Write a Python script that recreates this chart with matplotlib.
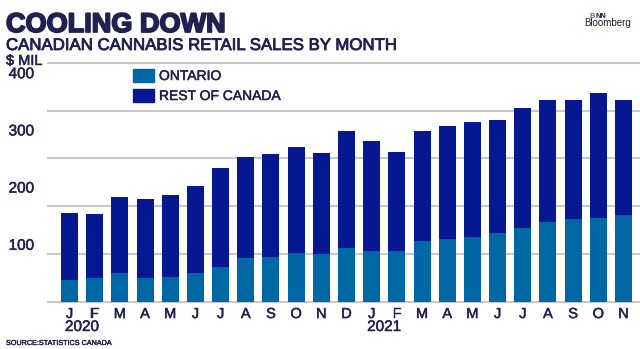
import numpy as np
import matplotlib
matplotlib.use("Agg")
import matplotlib.pyplot as plt
import matplotlib.patheffects as pe
from matplotlib.patches import Rectangle
from matplotlib.transforms import blended_transform_factory

# Monthly retail sales, $ millions
months = ["J", "F", "M", "A", "M", "J", "J", "A", "S", "O", "N", "D",
          "J", "F", "M", "A", "M", "J", "J", "A", "S", "O", "N"]
years = ["2020", "2021"]
year_start_idx = [0, 12]
total_sales = [154, 153, 182, 179, 186, 202, 233, 252, 257, 270, 259, 298,
               280, 261, 298, 306, 313, 318, 339, 353, 353, 364, 353]
ontario = [38, 41, 50, 41, 43, 50, 60, 76, 78, 85, 83, 93,
           88, 88, 106, 109, 113, 120, 128, 139, 144, 146, 151]
rest_of_canada = [t - o for t, o in zip(total_sales, ontario)]
ytick_values = [100, 200, 300, 400]

C_ONT = "#0067a5"
C_REST = "#061891"
C_TEXT = "#20214f"
C_GRID = "#c9c9c9"
FONT = "Liberation Sans"
MEDIUM = [pe.withStroke(linewidth=0.35, foreground=C_TEXT)]

W, H = 640, 349
fig = plt.figure(figsize=(W / 100, H / 100), dpi=100)
fig.patch.set_facecolor("white")


def fx(px):
    return px / W


def fy(py):
    return 1 - py / H


ax_left, ax_right, ax_bottom, ax_top = 48, 640, 301.5, 63
ax = fig.add_axes([fx(ax_left), fy(ax_bottom), fx(ax_right - ax_left),
                   (ax_bottom - ax_top) / H])
ymax = (ax_bottom - ax_top) / 0.572
ax.set_ylim(0, ymax)
n = len(months)
ax.set_xlim(-0.854, n - 1 + 0.655)

x = np.arange(n)
ax.bar(x, ontario, width=0.675, color=C_ONT, zorder=2)
ax.bar(x, rest_of_canada, bottom=ontario, width=0.675, color=C_REST, zorder=2)

# evenly spaced horizontal rules
for v in np.linspace(0, ymax, 6):
    ax.axhline(v, color=C_GRID, lw=1.5, zorder=1, clip_on=False)

for s in ax.spines.values():
    s.set_visible(False)
ax.set_facecolor("none")

ax.set_xticks(x)
ax.set_xticklabels(months, fontfamily=FONT, fontsize=10.5, color=C_TEXT)
ax.set_yticks(ytick_values)
ax.set_yticklabels([str(v) for v in ytick_values], fontfamily=FONT,
                   fontsize=11, color=C_TEXT)
for lbl in ax.get_xticklabels() + ax.get_yticklabels():
    lbl.set_path_effects(MEDIUM)
ax.tick_params(axis="x", length=0, pad=4)
ax.tick_params(axis="y", length=0, pad=10)

trans = blended_transform_factory(ax.transData, fig.transFigure)
for yr, idx in zip(years, year_start_idx):
    ax.text(idx - 0.18, fy(331), yr, transform=trans, ha="left",
            va="baseline", fontfamily=FONT, fontsize=11, color=C_TEXT,
            path_effects=MEDIUM)

fig.text(fx(6), fy(65), "$ MIL", ha="left", va="baseline",
         fontfamily=FONT, fontsize=10.5, color=C_TEXT, path_effects=MEDIUM)

# headline
fig.text(fx(6), fy(32), "COOLING DOWN", ha="left", va="baseline",
         fontfamily=FONT, fontweight="bold", fontsize=19.5, color=C_TEXT,
         path_effects=[pe.withStroke(linewidth=1.3, foreground=C_TEXT)])
fig.text(fx(6), fy(50), "CANADIAN CANNABIS RETAIL SALES BY MONTH",
         ha="left", va="baseline", fontfamily=FONT, fontsize=12.1,
         color=C_TEXT,
         path_effects=[pe.withStroke(linewidth=0.6, foreground=C_TEXT)])

# legend
for (label, col, top) in [("ONTARIO", C_ONT, 69), ("REST OF CANADA", C_REST, 89)]:
    fig.patches.append(Rectangle((fx(133), fy(top + 13)), fx(21), 13 / H,
                                 transform=fig.transFigure, color=col))
    fig.text(fx(159), fy(top + 11), label, ha="left", va="baseline",
             fontfamily=FONT, fontsize=10, color=C_TEXT, path_effects=MEDIUM)

fig.text(fx(6), fy(345), "SOURCE:STATISTICS CANADA", ha="left",
         va="baseline", fontfamily=FONT, fontsize=5.2, color=C_TEXT,
         path_effects=[pe.withStroke(linewidth=0.25, foreground=C_TEXT)])

# logo
fig.text(fx(590), fy(17.5), "B", ha="left", va="baseline", fontfamily=FONT,
         fontweight="bold", fontsize=5.4, color="#1d7fd4")
fig.text(fx(595.5), fy(17.5), "NN", ha="left", va="baseline", fontfamily=FONT,
         fontweight="bold", fontsize=5.4, color="#1a1a2e")
fig.text(fx(584), fy(26), "Bloomberg", ha="left", va="baseline",
         fontfamily=FONT, fontsize=7, color="#1a1a2e")

fig.savefig("out.png", dpi=100, facecolor="white")
